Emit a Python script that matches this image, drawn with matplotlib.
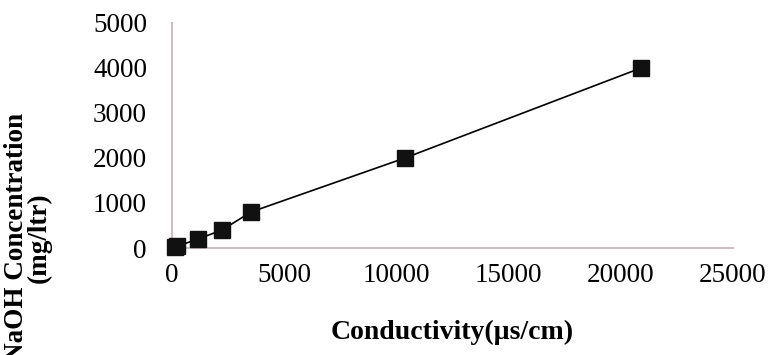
import matplotlib
matplotlib.use("Agg")
import matplotlib.pyplot as plt

conductivity = [120, 240, 1160, 2230, 3520, 10380, 20900]
naoh_conc = [15, 40, 200, 400, 800, 2000, 4000]
x_ticks = [0, 5000, 10000, 15000, 20000, 25000]
y_ticks = [0, 1000, 2000, 3000, 4000, 5000]

plt.rcParams['font.family'] = ['Liberation Serif', 'DejaVu Serif']

fig = plt.figure(figsize=(7.7, 3.55), dpi=100)
ax = fig.add_axes([172/770, 1-248/355, (733-172)/770, (248-23)/355])

ax.plot(conductivity, naoh_conc, color='black', lw=1.2, marker='s',
        ms=11, mfc='#111111', mec='#111111', clip_on=False, zorder=3)

ax.set_xlim(0, 25000)
ax.set_ylim(0, 5000)
ax.set_xticks(x_ticks)
ax.set_yticks(y_ticks)
ax.set_xticklabels([str(v) for v in x_ticks])
ax.set_yticklabels([str(v) for v in y_ticks])
ax.tick_params(axis='both', length=0, labelsize=19.5)
ax.tick_params(axis='x', pad=11)
ax.tick_params(axis='y', pad=18)

for s in ['top', 'right']:
    ax.spines[s].set_visible(False)
for s in ['left', 'bottom']:
    ax.spines[s].set_color('#c9c0bf')
    ax.spines[s].set_linewidth(1.5)

ax.set_xlabel('Conductivity(µs/cm)', fontsize=20, fontweight='bold', labelpad=23)

fig.text(28/770, 1-238/355, 'NaOH Concentration\n(mg/ltr)', rotation=90,
         ha='center', va='center', multialignment='center', fontsize=19.5,
         fontweight='bold', linespacing=0.85)

fig.savefig('out.png', dpi=100)
